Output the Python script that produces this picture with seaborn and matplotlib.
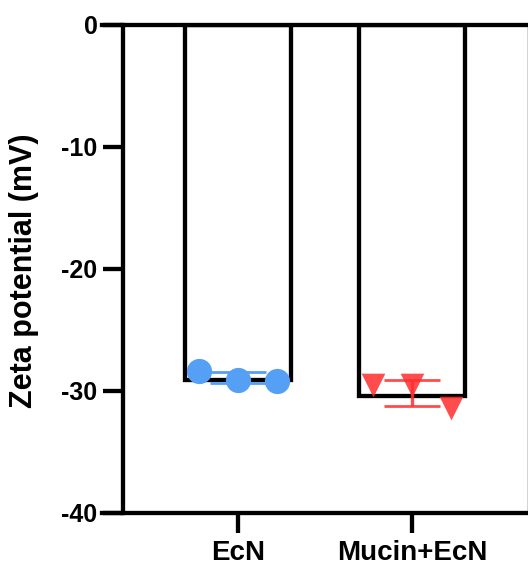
import numpy as np
import pandas as pd
import matplotlib
matplotlib.use("Agg")
import matplotlib.pyplot as plt
import seaborn as sns

# ---- data ----
groups = ["EcN", "Mucin+EcN"]
ecn_values = [-28.35, -29.1, -29.2]
mucin_ecn_values = [-29.5, -29.55, -31.4]
yticks = [0, -10, -20, -30, -40]
ylabel = "Zeta potential (mV)"

colors = {"EcN": "#559FF5", "Mucin+EcN": "#FF2D2D"}
alphas = {"EcN": 1.0, "Mucin+EcN": 0.85}
markers = {"EcN": "o", "Mucin+EcN": "v"}
sizes = {"EcN": 330, "Mucin+EcN": 290}
point_offsets = [-0.223, 0.0, 0.224]

sns.set_style("ticks")
plt.rcParams["font.family"] = ["Liberation Sans", "DejaVu Sans"]
plt.rcParams["font.weight"] = "bold"
plt.rcParams["axes.unicode_minus"] = False
plt.rcParams["text.color"] = "black"
plt.rcParams["axes.labelcolor"] = "black"
plt.rcParams["xtick.color"] = "black"
plt.rcParams["ytick.color"] = "black"
plt.rcParams["xtick.labelcolor"] = "black"
plt.rcParams["ytick.labelcolor"] = "black"

df = pd.DataFrame({
    "group": [groups[0]] * len(ecn_values) + [groups[1]] * len(mucin_ecn_values),
    "value": ecn_values + mucin_ecn_values,
})
df["rep"] = df.groupby("group").cumcount()
df["xpos"] = df["group"].map({g: i for i, g in enumerate(groups)}) + df["rep"].map(
    lambda r: point_offsets[r])

fig = plt.figure(figsize=(5.28, 5.69), dpi=100)
ax = fig.add_axes([102 / 528, 56 / 569, 425.5 / 528, 488.3 / 569])

lw = 3.1
sns.barplot(data=df, x="group", y="value", order=groups, errorbar=None,
            color="white", edgecolor="black", linewidth=lw, width=0.61,
            ax=ax, zorder=2)
# Prism-style: bar outline drawn just outside the bar extent
edge_extra = 0.25  # data units (~half the outline width plus a bit)
for p in ax.patches:
    p.set_facecolor("white")
    p.set_height(p.get_height() - edge_extra)

stats = df.groupby("group")["value"].agg(["mean", "std"])
for i, g in enumerate(groups):
    ax.errorbar(i, stats.loc[g, "mean"], yerr=stats.loc[g, "std"], fmt="none",
                ecolor=colors[g], alpha=alphas[g], elinewidth=2.4, capthick=2.0,
                capsize=20.5, zorder=3)

for g in groups:
    sub = df[df["group"] == g]
    sns.scatterplot(x=sub["xpos"].values, y=sub["value"].values, ax=ax,
                    marker=markers[g], s=sizes[g], color=colors[g],
                    alpha=alphas[g], linewidth=0, zorder=4, legend=False)

ax.set_xlim(-0.7816, 1.664)
ax.set_ylim(-40, 0)
ax.set_yticks(yticks)
ax.set_yticklabels([str(t) for t in yticks])
ax.set_xticks(range(len(groups)))
ax.set_xticklabels(groups)

ax.spines["left"].set_position(("data", -0.661))
for s in ["left", "top", "bottom"]:
    ax.spines[s].set_linewidth(lw)
    ax.spines[s].set_color("black")
ax.spines["right"].set_visible(True)
ax.spines["right"].set_linewidth(1.0)
ax.spines["right"].set_color("#222222")
ax.spines["top"].set_visible(True)
for s in ax.spines.values():
    s.set_zorder(5)

ax.tick_params(axis="y", length=14.4, width=lw, labelsize=18, pad=4,
               color="black", labelcolor="black")
ax.tick_params(axis="x", length=14.4, width=lw, labelsize=20, pad=5,
               color="black", labelcolor="black")
for t in ax.get_xticklabels() + ax.get_yticklabels():
    t.set_fontweight("bold")
    t.set_color("black")

ax.set_xlabel("")
ax.set_ylabel(ylabel, fontsize=22, fontweight="bold", color="black")
ax.yaxis.set_label_coords(-0.148, 0.497)

fig.savefig("out.png", dpi=100)
